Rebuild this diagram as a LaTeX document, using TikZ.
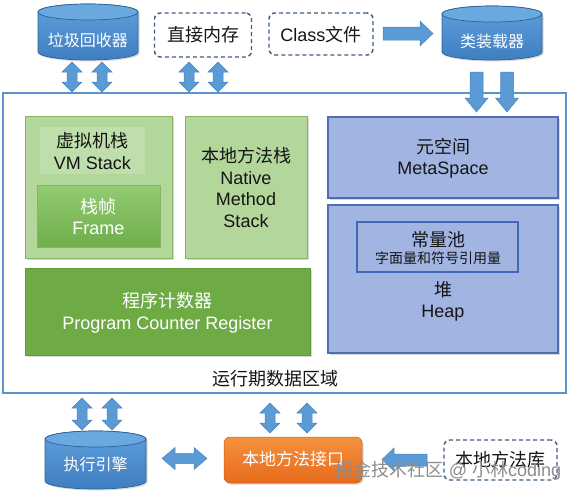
\documentclass[tikz,border=0pt]{standalone}
\usepackage{fontspec}
\setmainfont{Liberation Sans}
\newfontfamily\cjk{Noto Sans CJK SC}
\usetikzlibrary{shadows}
\definecolor{txtblack}{HTML}{151515}
\definecolor{outerblue}{HTML}{5B93CC}
\definecolor{gfill}{HTML}{B3D69B}
\definecolor{gborder}{HTML}{86B565}
\definecolor{gband}{HTML}{C0DEAB}
\definecolor{frtop}{HTML}{93CB72}
\definecolor{frbot}{HTML}{6FAE4B}
\definecolor{pcfill}{HTML}{6EAB45}
\definecolor{pcborder}{HTML}{5E9A3A}
\definecolor{bfill}{HTML}{A2B4E2}
\definecolor{bborder}{HTML}{4F6DB5}
\definecolor{poolborder}{HTML}{4468B8}
\definecolor{ortop}{HTML}{F4923F}
\definecolor{orbot}{HTML}{E86A1C}
\definecolor{dashc}{HTML}{3E5C7E}
\definecolor{arrfill}{HTML}{5B9BD5}
\definecolor{arrdraw}{HTML}{4A84BD}
\definecolor{cyltop}{HTML}{6AA8E0}
\definecolor{cylup}{HTML}{5FA0DE}
\definecolor{cyldown}{HTML}{3F7EC0}
\definecolor{cylline}{HTML}{2F6197}
\definecolor{wmgray}{HTML}{8C8C8C}
\newcommand{\vda}[3]{\path[barrow] (#1,#2) -- ({#1+10},{#2+10}) -- ({#1+5},{#2+10}) -- ({#1+5},{#3-10}) -- ({#1+10},{#3-10}) -- (#1,#3) -- ({#1-10},{#3-10}) -- ({#1-5},{#3-10}) -- ({#1-5},{#2+10}) -- ({#1-10},{#2+10}) -- cycle;}
\newcommand{\hda}[3]{\path[barrow] (#1,#3) -- ({#1+13},{#3-11}) -- ({#1+13},{#3-5}) -- ({#2-13},{#3-5}) -- ({#2-13},{#3-11}) -- (#2,#3) -- ({#2-13},{#3+11}) -- ({#2-13},{#3+5}) -- ({#1+13},{#3+5}) -- ({#1+13},{#3+11}) -- cycle;}
\newcommand{\darr}[3]{\path[barrow] ({#1-6.5},#2) -- ({#1+6.5},#2) -- ({#1+6.5},{#3-14}) -- ({#1+11.5},{#3-14}) -- (#1,#3) -- ({#1-11.5},{#3-14}) -- ({#1-6.5},{#3-14}) -- cycle;}
\newcommand{\cyl}[4]{%
  \path[cylbody] ({#1-#2},{#3+8}) -- ({#1-#2},{#4-8}) arc[start angle=180,end angle=360,x radius=#2pt,y radius=8pt] -- ({#1+#2},{#3+8}) arc[start angle=0,end angle=180,x radius=#2pt,y radius=8pt] -- cycle;
  \path[cyltopst] (#1,{#3+8}) ellipse[x radius=#2pt,y radius=8pt];}
\begin{document}
\begin{tikzpicture}[x=1pt,y=-1pt,
  lbl/.style={font=\fontsize{18}{21.5}\selectfont, align=center, inner sep=0pt, text=txtblack},
  wlbl/.style={lbl, text=white},
  clbl/.style={font=\fontsize{16}{19}\selectfont, inner sep=0pt, text=white},
  shad/.style={drop shadow={opacity=0.3, shadow xshift=1.5pt, shadow yshift=-1.5pt}},
  gbox/.style={draw=gborder, fill=gfill, line width=0.8pt, inner sep=0pt, shad},
  frbox/.style={draw=gborder, top color=frtop, bottom color=frbot, line width=0.8pt, inner sep=0pt},
  pcbox/.style={draw=pcborder, fill=pcfill, line width=0.8pt, inner sep=0pt, shad},
  bbox/.style={draw=bborder, fill=bfill, line width=1.3pt, inner sep=0pt, shad},
  poolbox/.style={draw=poolborder, fill=bfill, line width=1.8pt, inner sep=0pt},
  dbox/.style={draw=dashc, fill=white, line width=1.4pt, dash pattern=on 4pt off 3pt, rounded corners=6pt, inner sep=0pt},
  obox/.style={top color=ortop, bottom color=orbot, draw=orbot!90!black, line width=0.5pt, rounded corners=6pt, inner sep=0pt, shad},
  barrow/.style={fill=arrfill, draw=arrdraw, line width=0.5pt},
  cylbody/.style={top color=cylup, bottom color=cyldown, draw=cylline, line width=0.7pt, shad},
  cyltopst/.style={fill=cyltop, draw=cylline, line width=0.7pt}]
\useasboundingbox (0,0) rectangle (574,496);

% runtime data area
\node[draw=outerblue, line width=2.5pt, fill=white, minimum width=563pt, minimum height=300pt, inner sep=0pt] (rt) at (284.5,243) {};
\node[lbl] (rtl) at (275,379) {{\cjk 运行期数据区域}};

% VM stack
\node[gbox, minimum width=147pt, minimum height=142pt] (vm) at (98.5,187) {};
\node[fill=gband, minimum width=105pt, minimum height=47pt, inner sep=0pt] (vmband) at (92.5,150.5) {};
\node[lbl] (vmt) at (92.5,151) {{\cjk 虚拟机栈}\\VM Stack};
\node[frbox, minimum width=123pt, minimum height=62pt] (fr) at (98.5,216) {};
\node[wlbl] (frt) at (98.5,216.5) {{\cjk 栈帧}\\Frame};

% native method stack
\node[gbox, minimum width=122pt, minimum height=142pt] (nms) at (246,187) {};
\node[lbl] (nmst) at (246,187.5) {{\cjk 本地方法栈}\\Native\\Method\\Stack};

% program counter
\node[pcbox, minimum width=285pt, minimum height=87pt] (pc) at (167.5,311.5) {};
\node[wlbl] (pct) at (167.5,313) {{\cjk 程序计数器}\\Program Counter Register};

% metaspace
\node[bbox, minimum width=230pt, minimum height=81pt] (ms) at (443,157.5) {};
\node[lbl] (mst) at (443,158) {{\cjk 元空间}\\MetaSpace};

% heap
\node[bbox, minimum width=230pt, minimum height=148pt] (heap) at (443,279) {};
\node[poolbox, minimum width=161pt, minimum height=50pt] (pool) at (437.5,247) {};
\node[lbl] (poolt) at (438,240) {{\cjk 常量池}};
\node[inner sep=0pt, text=txtblack, font=\fontsize{14}{16}\selectfont] (poolt2) at (438,258.5) {{\cjk 字面量和符号引用量}};
\node[lbl] (heapt) at (443,301.5) {{\cjk 堆}\\Heap};

% top row
\cyl{88}{50}{4}{60}
\node[clbl] (gc) at (88,40) {{\cjk 垃圾回收器}};
\node[dbox, minimum width=97pt, minimum height=44pt] (dm) at (203,35) {};
\node[lbl] (dmt) at (203,35) {{\cjk 直接内存}};
\node[dbox, minimum width=104pt, minimum height=42pt] (cf) at (321,34) {};
\node[lbl] (cft) at (321,34.5) {Class{\cjk 文件}};
\cyl{492}{50}{6}{60}
\node[clbl] (cl) at (492,41) {{\cjk 类装载器}};

% bottom row
\cyl{95.5}{50.5}{431}{489}
\node[clbl] (ex) at (95.5,464) {{\cjk 执行引擎}};
\node[obox, minimum width=138pt, minimum height=46pt] (ni) at (293,460) {};
\node[font=\fontsize{17}{20}\selectfont, inner sep=0pt, text=white] (nit) at (293,459.5) {{\cjk 本地方法接口}};
\node[dbox, minimum width=113pt, minimum height=40pt] (nl) at (500.5,460) {};
\node[lbl] (nlt) at (500.5,460) {{\cjk 本地方法库}};

% arrows
\vda{72}{62}{92}
\vda{102}{62}{92}
\vda{189}{62}{92}
\vda{218}{62}{92}
\vda{82}{398}{430}
\vda{112}{398}{430}
\vda{270}{403}{433}
\vda{307}{403}{433}
\hda{162}{207}{458.5}
\path[barrow] (383,27) -- (420,27) -- (420,21) -- (433,33.5) -- (420,46) -- (420,40) -- (383,40) -- cycle;
\darr{476.5}{72}{112}
\darr{507}{72}{112}
\path[barrow] (382,459.5) -- (394,448) -- (394,454) -- (427,454) -- (427,466) -- (394,466) -- (394,471) -- cycle;

% watermark
\node[font=\fontsize{18}{20}\selectfont, inner sep=0pt, text=wmgray] (wm) at (448.5,471) {{\cjk 掘金技术社区} @ {\cjk 小林}coding};
\end{tikzpicture}
\end{document}
